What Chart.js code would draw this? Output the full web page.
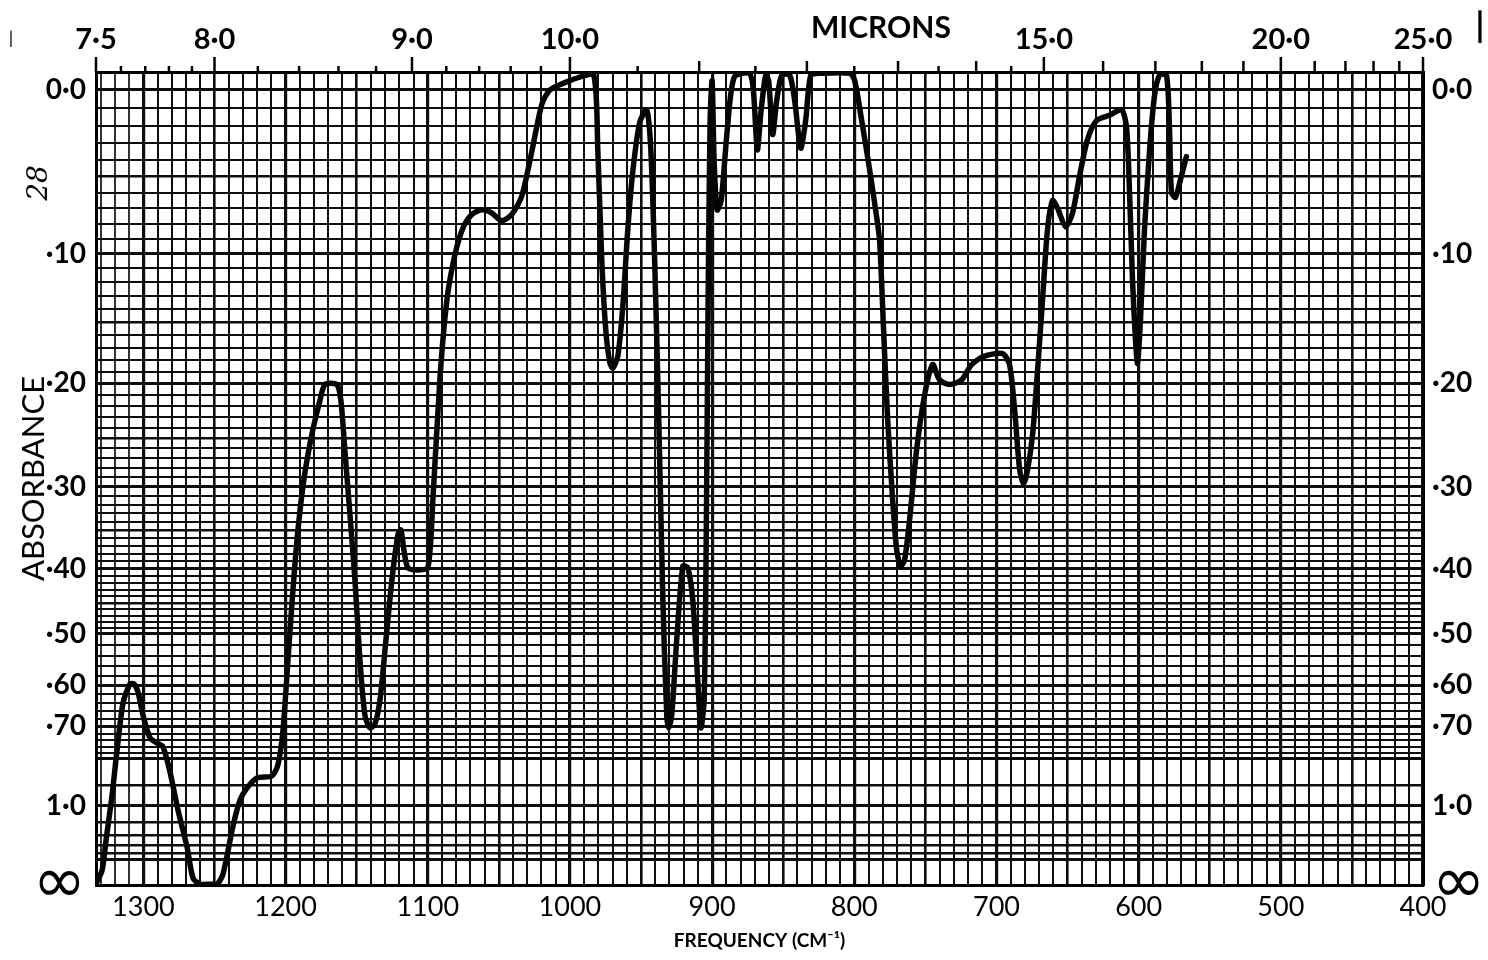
<!DOCTYPE html>
<html>
<head>
<meta charset="utf-8">
<script src="https://cdn.jsdelivr.net/npm/chart.js@4.4.1/dist/chart.umd.min.js"></script>
<style>
html,body{margin:0;padding:0;background:#fff;}
#wrap{width:1488px;height:960px;position:relative;}
canvas{display:block;}
</style>
</head>
<body>
<div id="wrap"><canvas id="c" width="1488" height="960" style="width:1488px;height:960px"></canvas></div>
<script>
// ---- spectrum trace: frequency (cm-1) and absorbance ----
const frequency = [
  1333, 1329, 1326, 1322, 1319, 1314.3, 1309.4, 1306.6, 1303.8, 1300.3,
  1295.3, 1290.4, 1286.2, 1281.3, 1275.7, 1269.3, 1265.1, 1260.2, 1253.2, 1248.2,
  1244, 1237, 1232, 1227.2, 1220.1, 1209.6, 1205.4, 1201.8, 1198.3, 1194.8,
  1191.3, 1187.8, 1184.3, 1180.8, 1175.8, 1172.3, 1163.9, 1161.1, 1158.3, 1154.7,
  1151.2, 1147.7, 1144.2, 1140.7, 1137.2, 1133.6, 1129.4, 1125.2, 1121, 1118.9,
  1116.8, 1114, 1107, 1099.9, 1096.4, 1091.5, 1086.5, 1080.9, 1075.3, 1069,
  1062, 1055, 1047.9, 1040.9, 1033.8, 1026.8, 1019.8, 1014.1, 1003.6, 993,
  983.2, 980.4, 977.6, 974.8, 972, 969.9, 966.3, 962.8, 959.3, 955.8,
  950.9, 946, 943.1, 940.4, 937.5, 934.7, 931.9, 930.5, 928.4, 924.9,
  920.6, 917.1, 913.6, 910.1, 907.9, 905.6, 904.2, 902.8, 901.4, 900,
  898.6, 896.5, 893.6, 889.3, 884.4, 873.8, 871, 868.2, 865.5, 862.3,
  860.2, 857.4, 854.6, 851, 845.4, 841.9, 837.7, 834.2, 830.6, 824.3,
  803.2, 799.7, 794.8, 789.2, 785, 782.2, 779.4, 776.5, 773, 770.2,
  767.4, 764.6, 761.1, 756.2, 750.5, 744.9, 740, 733, 724.5, 717.5,
  708.4, 695.7, 690.8, 687.2, 683.7, 680.9, 678.1, 674.6, 671.1, 667.6,
  664.1, 660.5, 657, 651.4, 646.5, 641.6, 636, 629.6, 620.5, 612,
  608.5, 606.4, 604.3, 602.2, 600.8, 598.7, 595.9, 592.3, 588.8, 585.3,
  580.4, 578.3, 576.9, 574.1, 570.6, 566.4
];
const absorbance = [
  2.6, 1.72, 1.22, 0.946, 0.79, 0.64, 0.597, 0.597, 0.615, 0.67,
  0.733, 0.748, 0.76, 0.847, 1.025, 1.32, 2.06, 3, 3, 3,
  1.86, 1.13, 0.971, 0.914, 0.871, 0.863, 0.821, 0.71, 0.548, 0.43,
  0.35, 0.3, 0.267, 0.242, 0.215, 0.201, 0.201, 0.215, 0.262, 0.332,
  0.416, 0.548, 0.67, 0.704, 0.694, 0.633, 0.511, 0.416, 0.356, 0.35,
  0.375, 0.399, 0.402, 0.399, 0.315, 0.197, 0.133, 0.101, 0.083, 0.074,
  0.071, 0.073, 0.078, 0.074, 0.062, 0.035, 0.008, 0, -0.004, -0.007,
  -0.008, 0.034, 0.105, 0.156, 0.182, 0.187, 0.177, 0.138, 0.084, 0.047,
  0.018, 0.011, 0.034, 0.105, 0.233, 0.44, 0.67, 0.704, 0.67, 0.511,
  0.397, 0.399, 0.446, 0.589, 0.704, 0.633, 0.375, 0.133, 0.017, -0.005,
  0.04, 0.071, 0.065, 0.022, -0.007, -0.009, 0, 0.034, 0.011, -0.008,
  -0.005, 0.025, 0.006, -0.008, -0.008, 0.006, 0.033, 0.017, -0.008, -0.009,
  -0.009, -0.005, 0.017, 0.046, 0.071, 0.091, 0.156, 0.233, 0.315, 0.375,
  0.397, 0.388, 0.338, 0.262, 0.21, 0.184, 0.197, 0.201, 0.197, 0.184,
  0.177, 0.175, 0.184, 0.224, 0.282, 0.297, 0.282, 0.247, 0.189, 0.133,
  0.084, 0.065, 0.07, 0.082, 0.073, 0.05, 0.028, 0.017, 0.014, 0.011,
  0.021, 0.06, 0.119, 0.164, 0.183, 0.148, 0.084, 0.034, 0.003, -0.008,
  -0.008, 0.022, 0.06, 0.063, 0.052, 0.038
];

// ---- axis tick values and labels ----
const freqLabelValues = [1300, 1200, 1100, 1000, 900, 800, 700, 600, 500, 400];
const absLabelValues = [0, 0.1, 0.2, 0.3, 0.4, 0.5, 0.6, 0.7, 1.0];
const absLabels = ['0·0', '·10', '·20', '·30', '·40', '·50', '·60', '·70', '1·0'];
const infinityLabel = '∞';
const micronLabelValues = [7.5, 8, 9, 10, 15, 20, 25];
const micronLabels = ['7·5', '8·0', '9·0', '10·0', '15·0', '20·0', '25·0'];
const micronMarks = [7.6, 7.7, 7.8, 7.9, 8.2, 8.4, 8.6, 8.8, 9.2, 9.4, 9.6, 9.8,
  10.5, 11, 11.5, 12, 12.5, 13, 13.5, 14, 14.5, 16, 17, 18, 19, 21, 22, 23, 24];

// chart paper grid (absorbance rulings and 10 cm-1 rulings)
const absGrid = [];
for (let i = 0; i <= 50; i++) absGrid.push(i / 100);
for (let i = 52; i <= 80; i += 2) absGrid.push(i / 100);
absGrid.push(0.9, 1.0, 1.1, 1.2, 1.3, 1.4, 1.5);
const absBold = [0.8, 1.5];
const freqGrid = [];
for (let f = 400; f <= 1330; f += 10) freqGrid.push(f);

const FREQ_MIN = 400, FREQ_MAX = 10000 / 7.5;
const T_TOP = 1.0226; // paper extends slightly above 0.0 absorbance

const toT = a => Math.pow(10, -a);
const near = (a, b) => Math.abs(a - b) < 1e-9;

const yTickList = absGrid.map(a => {
  const li = absLabelValues.findIndex(v => near(v, a));
  let w = 1.9;
  if (li >= 0 || absBold.some(v => near(v, a))) w = 3;
  else if (near(Math.round(a * 20) / 20, a)) w = 2.4;
  return { T: toT(a), label: li >= 0 ? absLabels[li] : '', w };
});
yTickList.push({ T: 0, label: infinityLabel, w: 1.9 });

const yLabelList = absLabelValues.map((a, i) => ({ T: toT(a), label: absLabels[i] }));
yLabelList.push({ T: 0, label: infinityLabel });

const labelFont = { family: 'Lato', size: 28, weight: 'bold' };
const infFont = { family: '"DejaVu Sans"', size: 64, weight: 'normal' };
const tickFont = ctx => (ctx.tick && ctx.tick.label === infinityLabel ? infFont : labelFont);

const decor = {
  id: 'decor',
  afterDraw(chart) {
    const ctx = chart.ctx;
    const xs = chart.scales.xTop;
    const top = chart.chartArea.top;
    ctx.save();
    ctx.strokeStyle = '#000';
    ctx.lineWidth = 2.5;
    const all = micronMarks.map(m => ({ m, len: Number.isInteger(m) ? 11 : 6 }))
      .concat(micronLabelValues.map(m => ({ m, len: 15 })));
    all.forEach(({ m, len }) => {
      const x = xs.getPixelForValue(10000 / m);
      ctx.beginPath();
      ctx.moveTo(x, top);
      ctx.lineTo(x, top - len);
      ctx.stroke();
    });
    ctx.fillStyle = '#000';
    ctx.font = 'bold 30px Lato';
    ctx.textAlign = 'center';
    ctx.textBaseline = 'middle';
    ctx.fillText('MICRONS', xs.getPixelForValue(10000 / 12.8), 28);
    // handwritten note on the left margin
    ctx.save();
    ctx.translate(40, 183);
    ctx.rotate(-Math.PI / 2);
    ctx.font = 'italic 28px "DejaVu Serif"';
    ctx.fillText('28', 0, 0);
    ctx.restore();
    ctx.font = 'bold 34px Lato';
    ctx.fillText('|', 1480, 26);
    ctx.font = '18px Lato';
    ctx.fillText('|', 11, 38);
    ctx.restore();
  }
};

new Chart(document.getElementById('c'), {
  type: 'scatter',
  data: {
    datasets: [{
      data: frequency.map((f, i) => ({ x: f, y: toT(absorbance[i]) })),
      showLine: true,
      borderColor: '#050505',
      borderWidth: 5.5,
      pointRadius: 0,
      tension: 0.25,
      borderJoinStyle: 'round',
      borderCapStyle: 'round',
      xAxisID: 'x',
      yAxisID: 'y'
    }]
  },
  options: {
    responsive: false,
    devicePixelRatio: 1,
    animation: false,
    events: [],
    layout: { padding: 0 },
    plugins: { legend: { display: false }, tooltip: { enabled: false } },
    scales: {
      x: {
        type: 'linear', position: 'bottom', reverse: true, min: FREQ_MIN, max: FREQ_MAX,
        afterBuildTicks: s => { s.ticks = freqGrid.map(v => ({ value: v })); },
        afterFit: s => { s.height = 75; },
        ticks: {
          autoSkip: false, maxRotation: 0, minRotation: 0, padding: 6, color: '#000',
          font: { family: 'Lato', size: 27 },
          callback: (v, i) => (freqLabelValues.includes(freqGrid[i]) ? String(freqGrid[i]) : '')
        },
        grid: {
          drawTicks: false,
          color: ctx => (freqGrid[ctx.index] > 1300 ? '#333' : '#0d0d0d'),
          lineWidth: ctx => {
            const f = freqGrid[ctx.index];
            if (f === undefined) return 2;
            if (f % 100 === 0) return 3.2;
            if (f % 50 === 0) return 2.6;
            return 2;
          }
        },
        border: { display: true, color: '#000', width: 3 },
        title: {
          display: true, text: 'FREQUENCY (CM⁻¹)', color: '#000',
          font: { family: 'Lato', size: 19, weight: 'bold' }, padding: { top: 0, bottom: 8 }
        }
      },
      xTop: {
        type: 'linear', position: 'top', reverse: true, min: FREQ_MIN, max: FREQ_MAX,
        afterBuildTicks: s => { s.ticks = micronLabelValues.map(m => ({ value: 10000 / m })); },
        afterFit: s => { s.height = 72; },
        ticks: {
          autoSkip: false, maxRotation: 0, minRotation: 0, padding: 15, color: '#000',
          font: { family: 'Lato', size: 29, weight: 'bold' },
          callback: (v, i) => micronLabels[i]
        },
        grid: { drawOnChartArea: false, drawTicks: false },
        border: { display: true, color: '#000', width: 3 }
      },
      y: {
        type: 'linear', position: 'left', min: 0, max: T_TOP,
        afterBuildTicks: s => { s.ticks = yTickList.map(t => ({ value: t.T })); },
        afterFit: s => { s.width = 96; },
        ticks: {
          autoSkip: false, padding: 10, color: '#000',
          callback: (v, i) => yTickList[i].label,
          font: tickFont
        },
        grid: {
          drawTicks: false, color: '#0d0d0d',
          lineWidth: ctx => (yTickList[ctx.index] ? yTickList[ctx.index].w : 1.9)
        },
        border: { display: true, color: '#000', width: 3 },
        title: {
          display: true, text: 'ABSORBANCE', color: '#000',
          font: { family: 'Lato', size: 31, weight: 'normal' }, padding: { top: 15, bottom: 0 }
        }
      },
      yR: {
        type: 'linear', position: 'right', min: 0, max: T_TOP,
        afterBuildTicks: s => { s.ticks = yLabelList.map(t => ({ value: t.T })); },
        afterFit: s => { s.width = 65; },
        ticks: {
          autoSkip: false, padding: 9, color: '#000',
          callback: (v, i) => yLabelList[i].label,
          font: tickFont
        },
        grid: { drawOnChartArea: false, drawTicks: false },
        border: { display: true, color: '#000', width: 3 }
      }
    }
  },
  plugins: [decor]
});
</script>
</body>
</html>
